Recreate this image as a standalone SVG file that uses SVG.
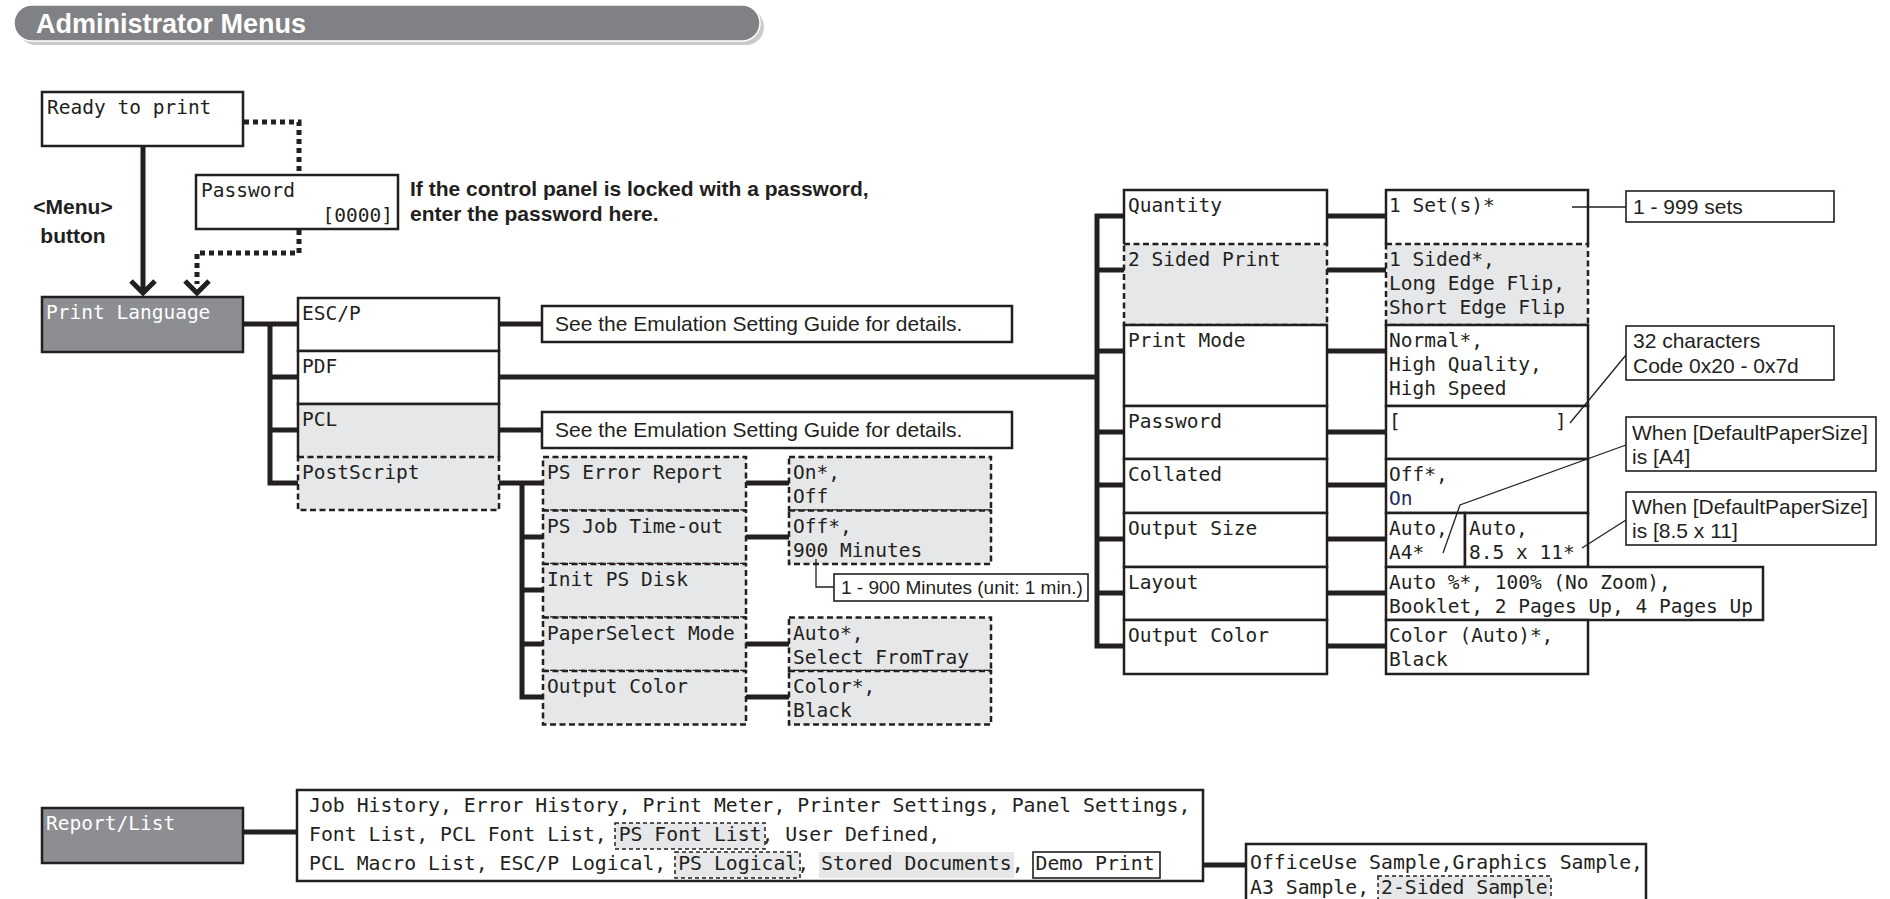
<svg xmlns="http://www.w3.org/2000/svg" width="1890" height="899" viewBox="0 0 1890 899">
<defs>
<style>
.box{fill:#fff;stroke:#231f20;stroke-width:2.5}
.open{fill:none;stroke:#231f20;stroke-width:2.5}
.gd{fill:#e6e7e8;stroke:#231f20;stroke-width:2.5;stroke-dasharray:6 3.5}
.gs{fill:#e6e7e8;stroke:none}
.dark{fill:#8c8e91;stroke:#231f20;stroke-width:2.5}
.nb{fill:#fff;stroke:#231f20;stroke-width:1.6}
.conn{stroke:#231f20;stroke-width:5;fill:none}
.dot{stroke:#231f20;stroke-width:5;fill:none;stroke-dasharray:5 4}
.lead{stroke:#231f20;stroke-width:1.3;fill:none}
.m{font-family:"DejaVu Sans Mono",monospace;font-size:19.5px;fill:#231f20}
.mb{font-family:"DejaVu Sans Mono",monospace;font-size:19.8px;fill:#231f20}
.w{fill:#fff}
.note{font-family:"Liberation Sans",Arial,sans-serif;font-size:21px;fill:#231f20}
.bold{font-family:"Liberation Sans",Arial,sans-serif;font-size:21px;font-weight:bold;fill:#231f20}
.sd{fill:#e6e7e8;stroke:#231f20;stroke-width:1.5;stroke-dasharray:4 3}
</style>
</defs>
<rect width="1890" height="899" fill="#fff"/>

<g id="title">
<rect x="18" y="9" width="746" height="36" rx="18" fill="#c9cacc"/>
<rect x="14" y="5" width="746" height="36" rx="18" fill="#808184" stroke="#fff" stroke-width="1.5"/>
<text x="36" y="33" font-family="'Liberation Sans',Arial,sans-serif" font-size="27" font-weight="bold" fill="#fff">Administrator Menus</text>
</g>

<g id="connectors">
<line class="conn" x1="143" y1="146" x2="143" y2="292"/>
<polyline class="conn" points="131,281 143,293 155,281"/>
<path class="dot" d="M244,122 H299 V175"/>
<path class="dot" d="M299,230 V253 H197 V284"/>
<polyline class="conn" points="185,281 197,293 209,281"/>
<path class="conn" d="M243,324 H298 M270,321.5 V485.5 M270,377 H298 M270,430 H298 M270,483 H298"/>
<path class="conn" d="M499,324 H542 M499,430 H542 M499,377 H1097"/>
<path class="conn" d="M1097,213.5 V648.5 M1097,216 H1124 M1097,270 H1124 M1097,351 H1124 M1097,432 H1124 M1097,485 H1124 M1097,539 H1124 M1097,593 H1124 M1097,646 H1124"/>
<path class="conn" d="M1327,216 H1386 M1327,270 H1386 M1327,351 H1386 M1327,432 H1386 M1327,485 H1386 M1327,539 H1386 M1327,593 H1386 M1327,646 H1386"/>
<path class="conn" d="M499,483 H543 M522,480.5 V699.5 M522,537 H543 M522,590 H543 M522,644 H543 M522,697 H543"/>
<path class="conn" d="M746,483 H789 M746,537 H789 M746,644 H789 M746,697 H789"/>
<path class="conn" d="M243,832 H297 M1160,865 H1246"/>
</g>

<g id="ready"><rect class="box" x="42" y="92" width="201" height="54"/><text class="m" x="47" y="114">Ready to print</text></g>
<g id="password-lock"><rect class="box" x="196" y="175" width="202" height="54"/><text class="m" x="201" y="197">Password</text><text class="m" x="393" y="222" text-anchor="end">[0000]</text></g>
<g id="menu-label"><text class="bold" x="73" y="214" text-anchor="middle">&lt;Menu&gt;</text><text class="bold" x="73" y="243" text-anchor="middle">button</text></g>
<g id="lock-note"><text class="bold" x="410" y="196">If the control panel is locked with a password,</text><text class="bold" x="410" y="221">enter the password here.</text></g>

<g id="print-language"><rect class="dark" x="42" y="297" width="201" height="55"/><text class="m w" x="46" y="319">Print Language</text></g>
<g id="escp"><rect class="box" x="298" y="298" width="201" height="53"/><text class="m" x="302" y="320">ESC/P</text></g>
<g id="pdf"><rect class="box" x="298" y="351" width="201" height="53"/><text class="m" x="302" y="373">PDF</text></g>
<g id="pcl"><rect class="gs" x="298" y="404" width="201" height="53"/><path class="open" d="M298,457 V404 H499 V457"/><text class="m" x="302" y="426">PCL</text></g>
<g id="postscript"><rect class="gd" x="298" y="457" width="201" height="53"/><text class="m" x="302" y="479">PostScript</text></g>
<g id="escp-note"><rect class="box" x="542" y="306" width="470" height="36"/><text class="note" x="555" y="331">See the Emulation Setting Guide for details.</text></g>
<g id="pcl-note"><rect class="box" x="542" y="412" width="470" height="36"/><text class="note" x="555" y="437">See the Emulation Setting Guide for details.</text></g>

<g id="ps-error"><rect class="gd" x="543" y="457" width="203" height="53.5"/><text class="m" x="547" y="479">PS Error Report</text></g>
<g id="ps-timeout"><rect class="gd" x="543" y="510.5" width="203" height="53.5"/><text class="m" x="547" y="533">PS Job Time-out</text></g>
<g id="ps-init"><rect class="gd" x="543" y="564" width="203" height="53.5"/><text class="m" x="547" y="586">Init PS Disk</text></g>
<g id="ps-paper"><rect class="gd" x="543" y="617.5" width="203" height="53.5"/><text class="m" x="547" y="640">PaperSelect Mode</text></g>
<g id="ps-color"><rect class="gd" x="543" y="671" width="203" height="53.5"/><text class="m" x="547" y="693">Output Color</text></g>
<g id="ps-error-val"><rect class="gd" x="789" y="457" width="202" height="53.5"/><text class="m" x="793" y="479">On*,</text><text class="m" x="793" y="503">Off</text></g>
<g id="ps-timeout-val"><rect class="gd" x="789" y="510.5" width="202" height="53.5"/><text class="m" x="793" y="533">Off*,</text><text class="m" x="793" y="557">900 Minutes</text></g>
<g id="ps-paper-val"><rect class="gd" x="789" y="617.5" width="202" height="53.5"/><text class="m" x="793" y="640">Auto*,</text><text class="m" x="793" y="664">Select FromTray</text></g>
<g id="ps-color-val"><rect class="gd" x="789" y="671" width="202" height="53.5"/><text class="m" x="793" y="693">Color*,</text><text class="m" x="793" y="717">Black</text></g>
<g id="timeout-note"><rect class="nb" x="834" y="574" width="254" height="27"/><text class="note" style="font-size:19px" x="841" y="594">1 - 900 Minutes (unit: 1 min.)</text></g>

<g id="quantity"><rect x="1124" y="190" width="203" height="54" fill="#fff"/><path class="open" d="M1124,244 V190 H1327 V244"/><text class="m" x="1128" y="212">Quantity</text></g>
<g id="two-sided"><rect class="gd" x="1124" y="244" width="203" height="81"/><text class="m" x="1128" y="266">2 Sided Print</text></g>
<g id="print-mode"><rect class="box" x="1124" y="325" width="203" height="81"/><text class="m" x="1128" y="347">Print Mode</text></g>
<g id="password"><rect class="box" x="1124" y="406" width="203" height="53"/><text class="m" x="1128" y="428">Password</text></g>
<g id="collated"><rect class="box" x="1124" y="459" width="203" height="54"/><text class="m" x="1128" y="481">Collated</text></g>
<g id="output-size"><rect class="box" x="1124" y="513" width="203" height="54"/><text class="m" x="1128" y="535">Output Size</text></g>
<g id="layout"><rect class="box" x="1124" y="567" width="203" height="53"/><text class="m" x="1128" y="589">Layout</text></g>
<g id="output-color"><rect class="box" x="1124" y="620" width="203" height="54"/><text class="m" x="1128" y="642">Output Color</text></g>

<g id="quantity-val"><rect x="1386" y="190" width="202" height="54" fill="#fff"/><path class="open" d="M1386,244 V190 H1588 V244"/><text class="m" x="1389" y="212">1 Set(s)*</text></g>
<g id="two-sided-val"><rect class="gd" x="1386" y="244" width="202" height="81"/><text class="m" x="1389" y="266">1 Sided*,</text><text class="m" x="1389" y="290">Long Edge Flip,</text><text class="m" x="1389" y="314">Short Edge Flip</text></g>
<g id="print-mode-val"><rect class="box" x="1386" y="325" width="202" height="81"/><text class="m" x="1389" y="347">Normal*,</text><text class="m" x="1389" y="371">High Quality,</text><text class="m" x="1389" y="395">High Speed</text></g>
<g id="password-val"><rect class="box" x="1386" y="406" width="202" height="53"/><text class="m" x="1389" y="428">[</text><text class="m" x="1555" y="428">]</text></g>
<g id="collated-val"><rect class="box" x="1386" y="459" width="202" height="54"/><text class="m" x="1389" y="481">Off*,</text><text class="m" x="1389" y="505" style="fill:#1b2a5e">On</text></g>
<g id="output-size-val"><rect class="box" x="1386" y="513" width="79" height="54"/><rect class="box" x="1465" y="513" width="123" height="54"/><text class="m" x="1389" y="535">Auto,</text><text class="m" x="1389" y="559">A4*</text><text class="m" x="1469" y="535">Auto,</text><text class="m" x="1469" y="559">8.5 x 11*</text></g>
<g id="layout-val"><rect class="box" x="1386" y="567" width="377" height="53"/><text class="m" x="1389" y="589">Auto %*, 100% (No Zoom),</text><text class="m" x="1389" y="613">Booklet, 2 Pages Up, 4 Pages Up</text></g>
<g id="output-color-val"><rect class="box" x="1386" y="620" width="202" height="54"/><text class="m" x="1389" y="642">Color (Auto)*,</text><text class="m" x="1389" y="666">Black</text></g>

<g id="sets-note"><rect class="nb" x="1626" y="191" width="208" height="31"/><text class="note" x="1633" y="214">1 - 999 sets</text></g>
<g id="chars-note"><rect class="nb" x="1626" y="326" width="208" height="54"/><text class="note" x="1633" y="348">32 characters</text><text class="note" x="1633" y="373">Code 0x20 - 0x7d</text></g>
<g id="a4-note"><rect class="nb" x="1626" y="417" width="250" height="54"/><text class="note" x="1632" y="440">When [DefaultPaperSize]</text><text class="note" x="1632" y="464">is [A4]</text></g>
<g id="letter-note"><rect class="nb" x="1626" y="492" width="250" height="53"/><text class="note" x="1632" y="514">When [DefaultPaperSize]</text><text class="note" x="1632" y="538">is [8.5 x 11]</text></g>

<g id="leaders">
<path class="lead" d="M816,559 V587 H834"/>
<path class="lead" d="M1572,207 H1626"/>
<path class="lead" d="M1626,355 L1570,423"/>
<path class="lead" d="M1626,445 L1460,505 L1443,553"/>
<path class="lead" d="M1626,520 L1582,548"/>
</g>

<g id="report-list"><rect class="dark" x="42" y="808" width="201" height="55"/><text class="m w" x="46" y="830">Report/List</text></g>
<g id="report-items">
<rect class="box" x="297" y="790" width="906" height="91"/>
<rect class="sd" x="615" y="823" width="150" height="26"/>
<rect class="sd" x="675" y="852" width="125" height="26"/>
<rect class="gs" x="819" y="852" width="195" height="26"/>
<rect class="nb" x="1033" y="852" width="127" height="26"/>
<text class="mb" x="309" y="812">Job History, Error History, Print Meter, Printer Settings, Panel Settings,</text>
<text class="mb" x="309" y="841">Font List, PCL Font List, PS Font List, User Defined,</text>
<text class="mb" x="309" y="870">PCL Macro List, ESC/P Logical, PS Logical, Stored Documents, Demo Print</text>
</g>
<g id="demo-samples">
<rect class="box" x="1246" y="844" width="400" height="70"/>
<rect class="sd" x="1378" y="876" width="173" height="25"/>
<text class="mb" x="1250" y="869">OfficeUse Sample,Graphics Sample,</text>
<text class="mb" x="1250" y="894">A3 Sample, 2-Sided Sample</text>
</g>
</svg>
